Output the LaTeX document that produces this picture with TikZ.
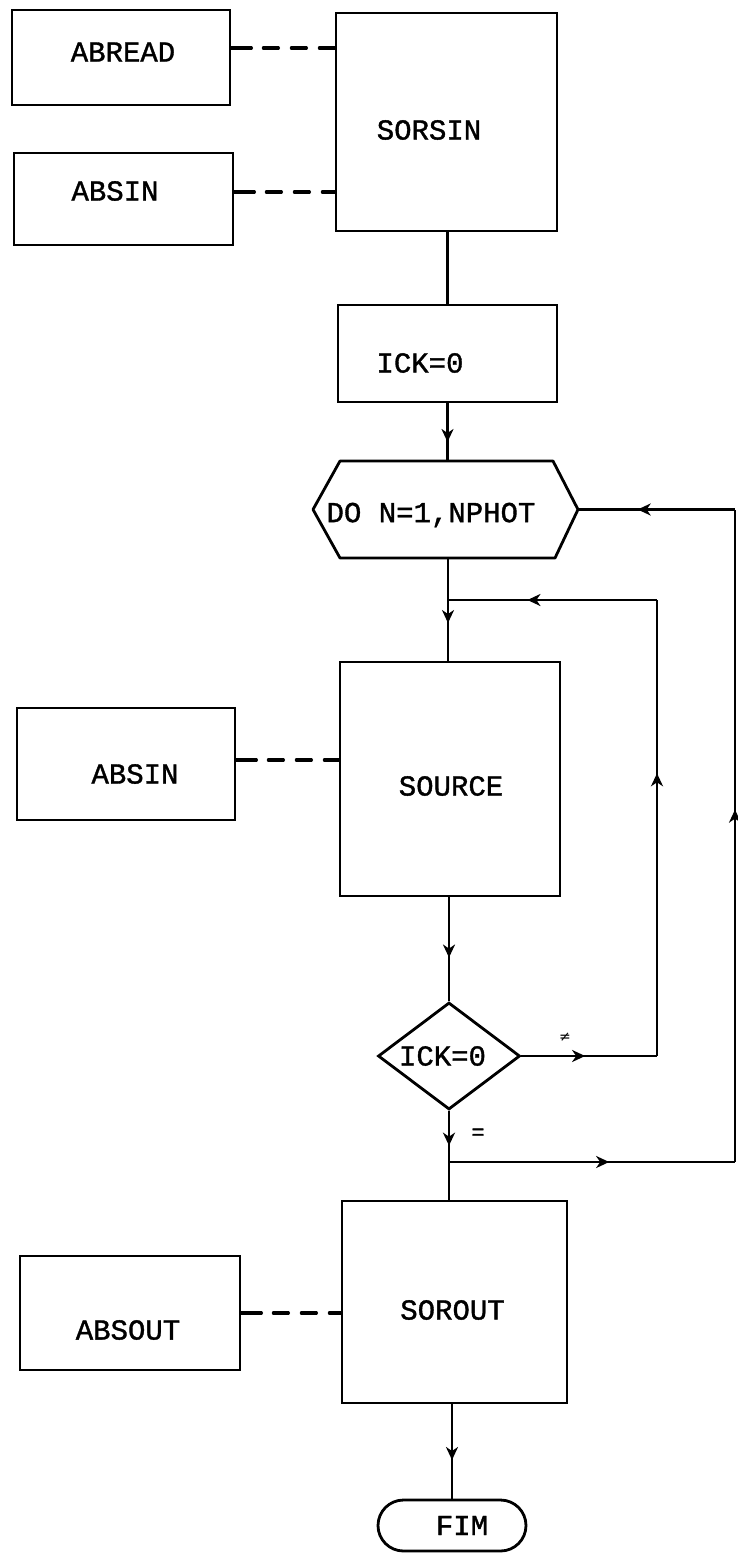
\documentclass[tikz,border=0pt]{standalone}
\usepackage{fontspec}
\newfontfamily\flowtt{Liberation Mono}[FakeBold=1.2]
\newfontfamily\symfont{DejaVu Sans}
\usetikzlibrary{arrows.meta,decorations.markings,shapes.geometric,shapes.misc,calc}

\newcommand\flowfont{\fontsize{29}{29}\selectfont\flowtt}

\begin{document}
\begin{tikzpicture}[x=1pt,y=-1pt,
  every label/.style={font=\flowfont,inner sep=0pt},
  procbox/.style={draw,rectangle,line width=2.8pt,inner sep=0pt},
  decision/.style={draw,diamond,line width=2.8pt,inner sep=0pt,aspect=1.33},
  terminal/.style={draw,rounded rectangle,line width=2.8pt,inner sep=0pt},
  flow/.style={line width=2.3pt},
  link/.style={line width=3.2pt,line cap=round,
    dash pattern=on 20pt off 12pt on 15pt off 13pt on 15pt off 13pt on 40pt},
  midarrow/.style={postaction={decorate},decoration={markings,
    mark=at position #1 with {\arrow{Stealth[length=13pt,width=12pt,inset=4pt]}}}},
  note/.style={inner sep=0pt}
]
\useasboundingbox (0,0) rectangle (737,1553);

% subroutine boxes on the left
\node[procbox,minimum width=218pt,minimum height=95pt,
  label={[xshift=2pt,yshift=5.5pt]center:ABREAD}] (abread) at (121,57.5) {};
\node[procbox,minimum width=219pt,minimum height=92pt,
  label={[xshift=-8.5pt,yshift=8pt]center:ABSIN}] (absinA) at (123.5,199) {};
\node[procbox,minimum width=218pt,minimum height=112pt,
  label={[xshift=9pt,yshift=-10pt]center:ABSIN}] (absinB) at (126,764) {};
\node[procbox,minimum width=220pt,minimum height=114pt,
  label={[xshift=-2pt,yshift=-17pt]center:ABSOUT}] (absout) at (130,1313) {};

% main column
\node[procbox,minimum width=221pt,minimum height=218pt,
  label={[xshift=-17.5pt,yshift=-8pt]center:SORSIN}] (sorsin) at (446.5,122) {};
\node[procbox,minimum width=219pt,minimum height=97pt,
  label={[xshift=-27.5pt,yshift=-9.5pt]center:{ICK=0}}] (init) at (447.5,353.5) {};
\node[rectangle,inner sep=0pt,outer sep=0pt,minimum width=265pt,minimum height=97pt,
  label={[xshift=-14.5pt,yshift=-5.5pt]center:{DO N=1,NPHOT}}] (loop) at (445.5,509.5) {};
\draw[line width=2.8pt,line join=round]
  (loop.west) -- ($(loop.north west)+(27,0)$) -- ($(loop.north east)+(-25,0)$)
  -- (loop.east) -- ($(loop.south east)+(-23,0)$) -- ($(loop.south west)+(27,0)$) -- cycle;
\node[procbox,minimum width=220pt,minimum height=234pt,
  label={[xshift=1pt,yshift=-7pt]center:SOURCE}] (source) at (450,779) {};
\node[decision,minimum width=142pt,minimum height=107pt,
  label={[xshift=-6.5pt]center:{ICK=0}}] (test) at (449,1056) {};
\node[procbox,minimum width=225pt,minimum height=202pt,
  label={[xshift=-2pt,yshift=-8pt]center:SOROUT}] (sorout) at (454.5,1302) {};
\node[terminal,minimum width=148pt,minimum height=51pt,
  label={[xshift=10pt]center:FIM}] (fim) at (452,1525.5) {};

% branch labels
\node[note,font=\fontsize{14}{14}\selectfont\symfont] (ne) at (565,1037) {≠};
\node[note,font=\fontsize{22}{22}\selectfont\flowtt] (eq) at (478,1134) {=};

% data links
\coordinate (l1) at ($(abread.east)+(0,-9.5)$);
\coordinate (l2) at ($(absinA.east)+(0,-7)$);
\coordinate (l3) at ($(absinB.east)+(0,-4)$);
\draw[link] (l1) -- (l1 -| sorsin.west);
\draw[link] (l2) -- (l2 -| sorsin.west);
\draw[link] (l3) -- (l3 -| source.west);
\draw[link] (absout.east) -- (absout.east -| sorout.west);

% junction points and loop corners
\coordinate (j1) at (448,600);
\coordinate (j2) at (449,1162);
\coordinate (c1) at (657,1056);
\coordinate (c2) at (657,600);
\coordinate (c3) at (735,1162);
\coordinate (c4) at (loop.east -| c3);

% main flow
\draw[flow] (init.north |- sorsin.south) -- (init.north);
\draw[flow,midarrow=0.67] (init.south) -- (init.south |- loop.north);
\draw[flow] (j1 |- loop.south) -- (j1);
\draw[flow,midarrow=0.38] (j1) -- (j1 |- source.north);
\draw[flow,midarrow=0.58] (test.north |- source.south) -- (test.north);
\draw[flow,midarrow=0.68] (test.south) -- (j2);
\draw[flow] (j2) -- (j2 |- sorout.north);
\draw[flow,midarrow=0.59] (fim.north |- sorout.south) -- (fim.north);

% repeat while ICK differs from 0
\draw[flow,midarrow=0.47] (test.east) -- (c1);
\draw[flow,midarrow=0.62] (c1) -- (c2);
\draw[flow,midarrow=0.62] (c2) -- (j1);

% end of the DO loop
\draw[flow,midarrow=0.56] (j2) -- (c3);
\draw[flow,midarrow=0.54] (c3) -- (c4);
\draw[flow,midarrow=0.62] (c4) -- (loop.east);
\end{tikzpicture}
\end{document}
